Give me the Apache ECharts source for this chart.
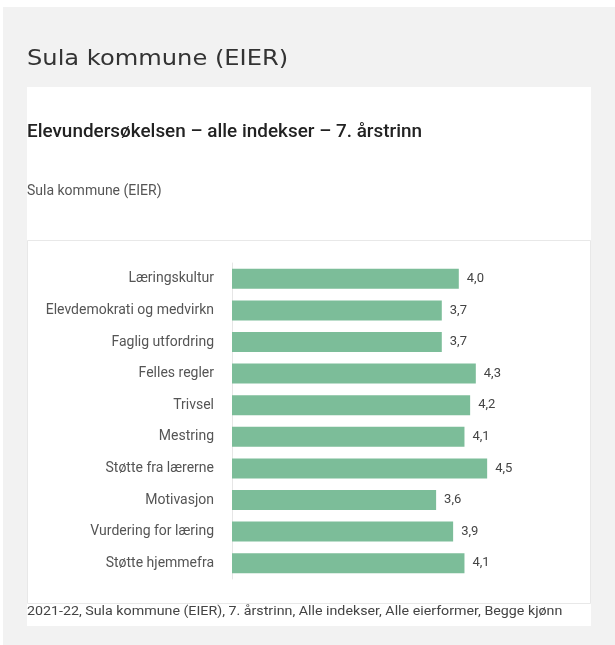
<!DOCTYPE html>
<html>
<head>
<meta charset="utf-8">
<script src="https://cdn.jsdelivr.net/npm/echarts@6/dist/echarts.min.js"></script>
<style>
html,body{margin:0;padding:0;background:#fff;}
#chart{width:615px;height:645px;}
</style>
</head>
<body>
<div id="chart"></div>
<script>
const categories = ["Læringskultur","Elevdemokrati og medvirkn","Faglig utfordring","Felles regler","Trivsel","Mestring","Støtte fra lærerne","Motivasjon","Vurdering for læring","Støtte hjemmefra"];
const values = [4.0,3.7,3.7,4.3,4.2,4.1,4.5,3.6,3.9,4.1];
const pageTitle = "Sula kommune (EIER)";
const chartTitle = "Elevundersøkelsen – alle indekser – 7. årstrinn";
const chartSubtitle = "Sula kommune (EIER)";
const footerText = "2021-22, Sula kommune (EIER), 7. årstrinn, Alle indekser, Alle eierformer, Begge kjønn";

const chart = echarts.init(document.getElementById('chart'), null, {renderer:'canvas'});
const option = {
  animation:false,
  backgroundColor:'#ffffff',
  graphic:[
    {type:'rect', z:-10, silent:true, shape:{x:3,y:7,width:612,height:638}, style:{fill:'#f2f2f2'}},
    {type:'rect', z:-9, silent:true, shape:{x:27,y:87,width:564,height:539}, style:{fill:'#ffffff'}},
    {type:'rect', z:-8, silent:true, shape:{x:27.5,y:240.5,width:563,height:363}, style:{fill:'#ffffff', stroke:'#e8e8e8', lineWidth:1}},
    {type:'text', silent:true, x:27, y:60, scaleX:1.15, style:{x:0,y:0,text:pageTitle, font:'400 21px "DejaVu Sans", sans-serif', fill:'#333333', verticalAlign:'middle'}},
    {type:'text', silent:true, x:27, y:133, scaleX:1.08, style:{x:0,y:0,text:chartTitle, font:'500 17.5px Roboto, sans-serif', fill:'#222222', verticalAlign:'middle'}},
    {type:'text', silent:true, x:27, y:191, style:{x:0,y:0,text:chartSubtitle, font:'400 14px Roboto, sans-serif', fill:'#555555', verticalAlign:'middle'}},
    {type:'text', silent:true, x:27, y:612, scaleX:1.055, style:{x:0,y:0,text:footerText, font:'400 13.5px Roboto, sans-serif', fill:'#444444', verticalAlign:'middle'}}
  ],
  grid:{left:232, right:99.5, top:263, bottom:66, containLabel:false},
  xAxis:{type:'value', min:0, max:5, show:false, splitLine:{show:false}},
  yAxis:{
    type:'category', data:categories, inverse:true,
    axisTick:{show:false},
    axisLine:{show:true, lineStyle:{color:'#e6e6e6', width:1}},
    axisLabel:{margin:18, color:'#555555', fontSize:14, fontFamily:'Roboto, sans-serif'}
  },
  series:[{
    type:'bar', data:values, barWidth:20,
    itemStyle:{color:'#7cbd99'},
    label:{show:true, position:'right', distance:8, color:'#444444', fontSize:13, fontFamily:'Roboto, sans-serif',
      formatter:p=>p.value.toFixed(1).replace('.',',')}
  }]
};
chart.setOption(option);
</script>
</body>
</html>
